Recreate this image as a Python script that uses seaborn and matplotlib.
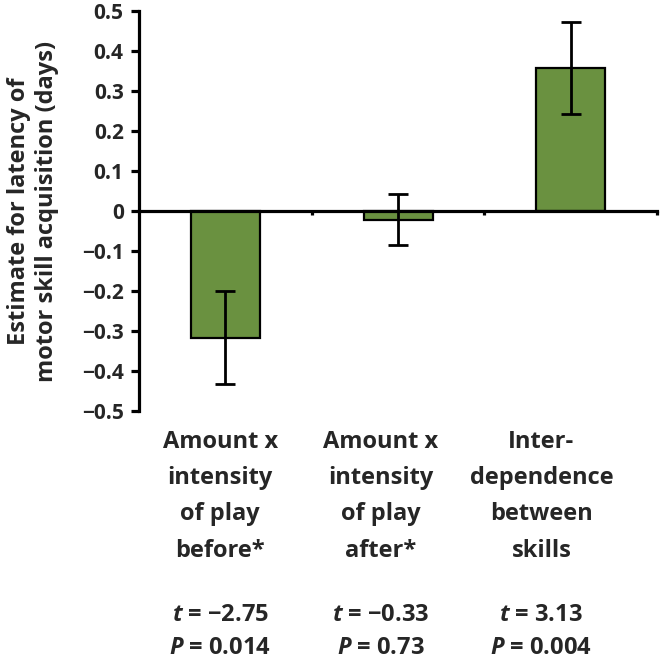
import matplotlib
matplotlib.use("Agg")
import matplotlib.pyplot as plt
import matplotlib.transforms as mtransforms
from matplotlib.ticker import FixedLocator, FuncFormatter
import numpy as np
import seaborn as sns

# values
categories = ["before", "after", "interdep"]
estimates = [-0.317, -0.022, 0.357]
errors = [0.116, 0.064, 0.115]
cat_labels = ["Amount x\nintensity\nof play\nbefore*",
              "Amount x\nintensity\nof play\nafter*",
              "Inter-\ndependence\nbetween\nskills"]
t_values = ["\u22122.75", "\u22120.33", "3.13"]
p_values = ["0.014", "0.73", "0.004"]
y_ticks = [-0.5, -0.4, -0.3, -0.2, -0.1, 0, 0.1, 0.2, 0.3, 0.4, 0.5]

bar_color = "#6a9140"

sns.set_theme(style="white")
plt.rcParams["font.family"] = ["Open Sans", "DejaVu Sans"]
plt.rcParams["font.weight"] = "bold"
plt.rcParams["mathtext.fontset"] = "custom"
plt.rcParams["mathtext.it"] = "Open Sans:bold:italic"
plt.rcParams["mathtext.rm"] = "Open Sans:bold"

fig = plt.figure(figsize=(6.6, 6.62), dpi=100)
ax = fig.add_axes([0.2106, 0.379, 0.785, 0.6044])

sns.barplot(x=categories, y=estimates, color=bar_color, edgecolor="black",
            linewidth=1.6, width=0.4, errorbar=None, saturation=1, ax=ax)
ax.errorbar(np.arange(len(categories)), estimates, yerr=errors, fmt="none",
            ecolor="black", elinewidth=2, capsize=7.5, capthick=2)

ax.set_xlim(-0.5, 2.5)
ax.set_ylim(-0.5, 0.5)

for s in ["top", "right"]:
    ax.spines[s].set_visible(False)
ax.spines["left"].set_linewidth(2.3)
ax.spines["bottom"].set_linewidth(2.3)
ax.spines["left"].set_color("black")
ax.spines["bottom"].set_color("black")
ax.spines["bottom"].set_position(("data", 0))

ax.yaxis.set_major_locator(FixedLocator(y_ticks))
ax.yaxis.set_major_formatter(FuncFormatter(
    lambda v, pos: "0" if abs(v) < 1e-9 else f"{v:.1f}".replace("-", "\u2212")))
ax.tick_params(axis="y", direction="out", length=6, width=2.3, color="black",
               labelsize=15, pad=5, left=True)
for lab in ax.get_yticklabels():
    lab.set_fontweight("bold")

ax.set_xticks([0.5, 1.5, 2.5])
ax.set_xticklabels([])
ax.tick_params(axis="x", direction="out", length=3, width=2.3, color="black", bottom=True)
ax.set_xlabel("")

ax.set_ylabel("Estimate for latency of\nmotor skill acquisition (days)",
              fontsize=17, fontweight="bold", linespacing=1.2)
ax.yaxis.set_label_coords(-0.155, 0.5)

# category labels and statistics under the plot
trans = mtransforms.blended_transform_factory(ax.transData, fig.transFigure)
label_shift = [-0.03, -0.1, -0.17]
for i, lab in enumerate(cat_labels):
    ax.text(i + label_shift[i], 1 - 430 / 662, lab, transform=trans,
            ha="center", va="top", fontsize=17, fontweight="bold",
            linespacing=1.68)
    ax.text(i + label_shift[i], 1 - 615 / 662, f"$t$ = {t_values[i]}",
            transform=trans, ha="center", va="center", fontsize=17,
            fontweight="bold")
    ax.text(i + label_shift[i], 1 - 648 / 662, f"$P$ = {p_values[i]}",
            transform=trans, ha="center", va="center", fontsize=17,
            fontweight="bold")

fig.savefig("out.png", dpi=100)
